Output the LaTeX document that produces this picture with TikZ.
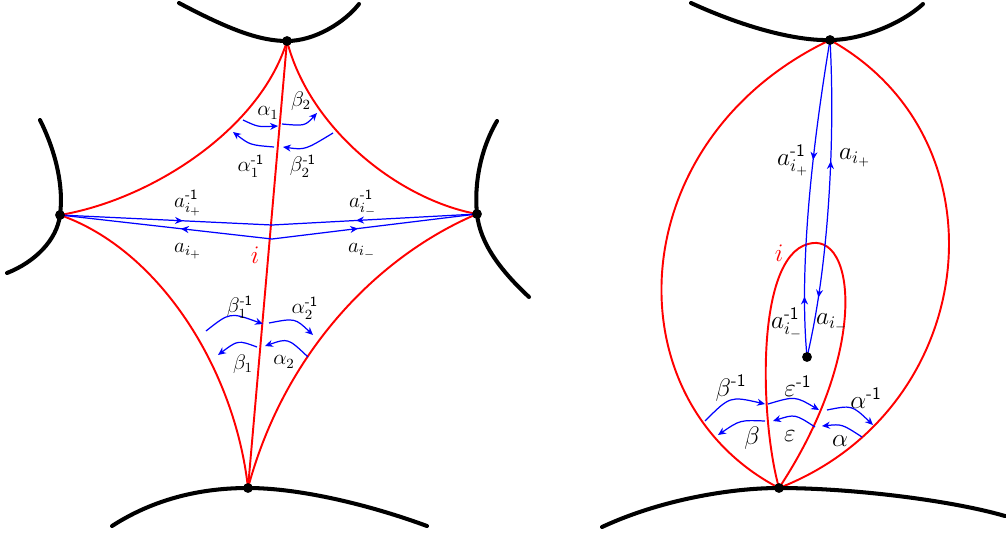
\documentclass[tikz,border=0pt]{standalone}
\usepackage{amsmath}
\usetikzlibrary{arrows.meta,decorations.markings}
\tikzset{
 bnd/.style={line width=2.3pt, line cap=round},
 redl/.style={red, line width=1.1pt},
 bluel/.style={blue, line width=0.7pt},
 arcl/.style={blue, line width=0.7pt, -{Stealth[length=4.5pt,width=4pt]}},
 midfwd/.style={postaction={decorate, decoration={markings, mark=at position #1 with {\arrow{Stealth[length=4.5pt,width=4pt]}}}}},
 midbwd/.style={postaction={decorate, decoration={markings, mark=at position #1 with {\arrowreversed{Stealth[length=4.5pt,width=4pt]}}}}},
 lab/.style={inner sep=0pt, font=\large},
 labR/.style={inner sep=0pt, font=\Large},
 redlab/.style={red, inner sep=0pt, font=\Large},
 vdot/.style={fill=black},
}
\newcommand{\mone}{\text{\sffamily -1}}
\begin{document}
\begin{tikzpicture}[x=0.02cm,y=-0.02cm]
\useasboundingbox (0,0) rectangle (1006,538);
% ---------- left figure ----------
\coordinate (T) at (287,41);
\coordinate (L) at (60,215);
\coordinate (R) at (477,214);
\coordinate (B) at (248,488);
\coordinate (D1) at (272,225);
\coordinate (D2) at (272,239);
% red edges
\draw[redl] (T) .. controls (260,130) and (150,200) .. (L);
\draw[redl] (T) .. controls (310,130) and (400,200) .. (R);
\draw[redl] (L) .. controls (160,250) and (235,370) .. (B);
\draw[redl] (R) .. controls (380,255) and (285,350) .. (B);
\draw[redl] (T) -- (B);
\node[redlab] (il) at (255,255) {$i$};
% blue lines
\draw[bluel, midfwd=0.58] (L) -- (D1);
\draw[bluel, midfwd=0.59] (R) -- (D1);
\draw[bluel, midfwd=0.43] (D2) -- (L);
\draw[bluel, midfwd=0.42] (D2) -- (R);
\node[lab] (aip1) at (188,203) {$a_{i_+}^{\mone}$};
\node[lab] (aim1) at (363,203) {$a_{i_-}^{\mone}$};
\node[lab] (aip) at (188,251) {$a_{i_+}$};
\node[lab] (aim) at (362,251) {$a_{i_-}$};
% top arcs
\draw[arcl] (243,120) .. controls (258,127) .. (278,126);
\draw[arcl] (282,124) .. controls (305,126) .. (317,113);
\draw[arcl] (333,133) .. controls (305,150) .. (283,147);
\draw[arcl] (274,147) .. controls (250,145) .. (233,132);
\node[lab] (al1) at (268,113) {$\alpha_1$};
\node[lab] (be2) at (301,101) {$\beta_2$};
\node[lab] (al1i) at (251,166) {$\alpha_1^{\mone}$};
\node[lab] (be2i) at (303,166) {$\beta_2^{\mone}$};
% bottom arcs
\draw[arcl] (206,331) .. controls (230,312) .. (263,324);
\draw[arcl] (269,323) .. controls (295,318) .. (313,335);
\draw[arcl] (308,357) .. controls (288,338) .. (265,346);
\draw[arcl] (257,347) .. controls (238,340) .. (218,355);
\node[lab] (be1i) at (240,307) {$\beta_1^{\mone}$};
\node[lab] (al2i) at (305,308) {$\alpha_2^{\mone}$};
\node[lab] (be1) at (243,364) {$\beta_1$};
\node[lab] (al2) at (284,362) {$\alpha_2$};
% boundaries
\draw[bnd] (179,3) .. controls (230,30) and (260,41) .. (T) .. controls (315,41) and (345,22) .. (359,4);
\draw[bnd] (40,120) .. controls (55,150) and (64,185) .. (L) .. controls (57,240) and (35,262) .. (7,273);
\draw[bnd] (497,121) .. controls (480,150) and (474,185) .. (R) .. controls (480,243) and (500,270) .. (529,297);
\draw[bnd] (112,526) .. controls (160,495) and (210,488) .. (B) .. controls (300,488) and (370,505) .. (427,526);
\fill[vdot] (T) circle (2.8pt);
\fill[vdot] (L) circle (2.8pt);
\fill[vdot] (R) circle (2.8pt);
\fill[vdot] (B) circle (2.8pt);
% ---------- right figure ----------
\coordinate (T2) at (830,40);
\coordinate (B2) at (779,488);
\coordinate (P) at (807,357);
\coordinate (Top) at (808,244);
\draw[redl] (B2) .. controls (610,400) and (620,140) .. (T2);
\draw[redl] (B2) .. controls (980,410) and (1010,140) .. (T2);
\draw[redl] (B2) .. controls (760,420) and (755,258) .. (Top) .. controls (855,230) and (870,350) .. (B2);
\node[redlab] (ir) at (779,253) {$i$};
% blue
\draw[bluel, midfwd=0.38, midbwd=0.81] (T2) .. controls (815,130) and (798,260) .. (P);
\draw[bluel, midbwd=0.38, midfwd=0.81] (T2) .. controls (835,130) and (830,260) .. (P);
\node[labR] (rip1) at (793,160) {$a_{i_+}^{\mone}$};
\node[labR] (rip) at (855,158) {$a_{i_+}$};
\node[labR] (rim1) at (787,323) {$a_{i_-}^{\mone}$};
\node[labR] (rim) at (832,323) {$a_{i_-}$};
% arcs
\draw[arcl] (705,421) .. controls (730,396) .. (765,404);
\draw[arcl] (768,404) .. controls (795,396) .. (819,410);
\draw[arcl] (827,410) .. controls (852,405) .. (873,425);
\draw[arcl] (862,437) .. controls (842,424) .. (822,426);
\draw[arcl] (815,427) .. controls (795,414) .. (773,421);
\draw[arcl] (765,421) .. controls (740,420) .. (718,435);
\node[labR] (rbi) at (731,388) {$\beta^{\mone}$};
\node[labR] (rei) at (798,386) {$\varepsilon^{\mone}$};
\node[labR] (rai) at (866,398) {$\alpha^{\mone}$};
\node[labR] (rb) at (752,438) {$\beta$};
\node[labR] (re) at (790,436) {$\varepsilon$};
\node[labR] (ra) at (840,441) {$\alpha$};
% boundaries
\draw[bnd] (691,3) .. controls (750,30) and (800,41) .. (T2) .. controls (860,40) and (900,25) .. (923,4);
\draw[bnd] (602,527) .. controls (660,500) and (730,488) .. (B2) .. controls (850,488) and (950,500) .. (1005,516);
\fill[vdot] (T2) circle (2.8pt);
\fill[vdot] (B2) circle (2.8pt);
\fill[vdot] (P) circle (2.8pt);
\end{tikzpicture}
\end{document}
